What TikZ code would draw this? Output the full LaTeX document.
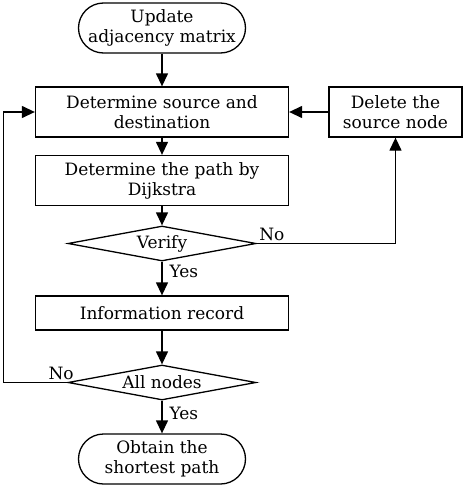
\documentclass[tikz,border=0pt]{standalone}
\usepackage{amsmath,amssymb}
\usepackage{fontspec}
\setmainfont{DejaVu Serif}
\usepackage{tikz}
\usetikzlibrary{shapes.geometric,arrows.meta}

\begin{document}
\begin{tikzpicture}[x=1pt,y=-1pt,
    font=\fontsize{17}{20}\selectfont,
    proc/.style={draw,line width=1.3pt,minimum width=253pt,minimum height=50pt,align=center,inner sep=2pt},
    term/.style={draw,line width=1.3pt,rounded corners=25pt,minimum width=167pt,minimum height=50pt,align=center},
    decide/.style={draw,line width=1.3pt,diamond,aspect=6,inner sep=0pt,minimum width=188pt,minimum height=35pt},
    flow/.style={line width=1.3pt,-{Triangle[length=13pt,width=12pt]}}]
  \useasboundingbox (0,0) rectangle (464,490);

  % main column
  \node[term] (update) at (162,28) {Update\\adjacency matrix};
  \node[proc] (source) at (162,112) {Determine source and\\destination};
  \node[proc] (dijkstra) at (162,180.5) {Determine the path by\\Dijkstra};
  \node[decide] (verify) at (162,243.5) {Verify};
  \node[proc, minimum height=34pt] (record) at (162,313) {Information record};
  \node[decide] (allnodes) at (162,382.5) {All nodes};
  \node[term] (result) at (162,459) {Obtain the\\shortest path};

  % side branch
  \node[proc, minimum width=133pt] (delete) at (395.5,112) {Delete the\\source node};
  \coordinate (back) at (3.5,382.5);

  \draw[flow] (update) -- (source);
  \draw[flow] (source) -- (dijkstra);
  \draw[flow] (dijkstra) -- (verify);
  \draw[flow] (verify) -- node[right, pos=0.3, inner sep=2pt, xshift=5pt] {Yes} (record);
  \draw[flow] (record) -- (allnodes);
  \draw[flow] (allnodes) -- node[right, pos=0.38, inner sep=2pt, xshift=5pt] {Yes} (result);

  % loops
  \draw[flow] (verify.east) -- node[above right, pos=0, inner sep=2pt] {No} (verify.east -| delete.south) -- (delete.south);
  \draw[flow] (delete.west) -- (source.east);
  \draw[flow] (allnodes.west) -- node[above left, pos=0, xshift=9pt, inner sep=2pt] {No} (back) |- (source.west);
\end{tikzpicture}
\end{document}
